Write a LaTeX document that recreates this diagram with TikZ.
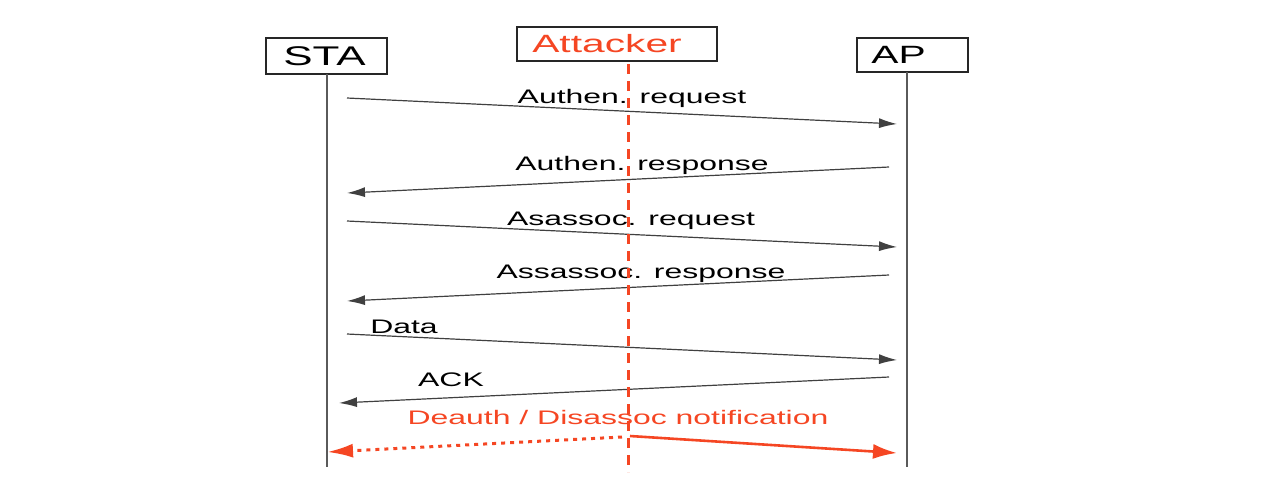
\documentclass[tikz,border=0pt]{standalone}
\usepackage{graphicx}
\usepackage{fontspec}
\setmainfont{Liberation Sans}
\usetikzlibrary{arrows.meta}
\definecolor{attred}{RGB}{245,70,35}
\definecolor{lifegray}{RGB}{90,90,90}
\tikzset{
  actor/.style={draw=black!85, line width=0.8pt, inner sep=0pt, font=\fontsize{12.5}{14}\selectfont},
  msg/.style={draw=black!75, line width=0.6pt, -{Latex[length=9pt,width=5pt]}},
  msglabel/.style={anchor=base, inner sep=0pt, font=\fontsize{9.8}{12}\selectfont},
  life/.style={draw=lifegray, line width=0.6pt},
  attline/.style={draw=attred, line width=1.5pt, dash pattern=on 5pt off 3.5pt},
  redsolid/.style={draw=attred, line width=1.3pt, -{Latex[length=12pt,width=7.5pt]}},
  reddot/.style={draw=attred, line width=1.5pt, dash pattern=on 2pt off 2.5pt, -{Latex[length=13pt,width=7pt]}}
}
\newcommand{\wide}[1]{\scalebox{1.63}[1]{#1}}
\begin{document}
\begin{tikzpicture}[x=0.5pt,y=-0.5pt]
\useasboundingbox (0,0) rectangle (1267,495);
% actor boxes
\node[actor, minimum width=60.5pt, minimum height=18pt, font=\fontsize{13.5}{15}\selectfont] (sta) at (326.5,56) {\hspace*{-2pt}\wide{STA}};
\node[actor, minimum width=100pt, minimum height=17pt, text=attred] (att) at (617,44) {\hspace*{-10pt}\wide{Attacker}};
\node[actor, minimum width=55.5pt, minimum height=17pt] (ap) at (912.5,55) {\hspace*{-14pt}\wide{AP}};
% lifeline ends
\coordinate (staTop) at (327,74);
\coordinate (staBot) at (327,467);
\coordinate (apTop) at (907,72);
\coordinate (apBot) at (907,467);
\coordinate (attTop) at (628,64);
\coordinate (attBot) at (628,472);
\draw[life] (staTop) -- (staBot);
\draw[life] (apTop) -- (apBot);
% message endpoints
\coordinate (m1s) at (347,98);  \coordinate (m1e) at (897,124);
\coordinate (m2s) at (889,167); \coordinate (m2e) at (347,193);
\coordinate (m3s) at (347,221); \coordinate (m3e) at (897,247);
\coordinate (m4s) at (889,275); \coordinate (m4e) at (347,301);
\coordinate (m5s) at (347,334); \coordinate (m5e) at (897,360);
\coordinate (m6s) at (889,377); \coordinate (m6e) at (339,403);
\draw[msg] (m1s) -- (m1e);
\draw[msg] (m2s) -- (m2e);
\draw[msg] (m3s) -- (m3e);
\draw[msg] (m4s) -- (m4e);
\draw[msg] (m5s) -- (m5e);
\draw[msg] (m6s) -- (m6e);
% labels
\node[msglabel] (l1) at (632,103) {\wide{Authen. request}};
\node[msglabel] (l2) at (642,170) {\wide{Authen. response}};
\node[msglabel] (l3) at (631,225) {\wide{Asassoc. request}};
\node[msglabel] (l4) at (641,278) {\wide{Assassoc. response}};
\node[msglabel] (l5) at (404,333) {\wide{Data}};
\node[msglabel] (l6) at (451,386) {\wide{ACK}};
\node[msglabel, text=attred] (l7) at (618,424) {\wide{Deauth / Disassoc notification}};
% attacker line
\draw[attline] (attTop) -- (attBot);
% deauth arrows
\coordinate (dLs) at (622,437); \coordinate (dLe) at (327,452);
\coordinate (dRs) at (630,436); \coordinate (dRe) at (897,453);
\draw[reddot] (dLs) -- (dLe);
\draw[redsolid] (dRs) -- (dRe);
\end{tikzpicture}
\end{document}
